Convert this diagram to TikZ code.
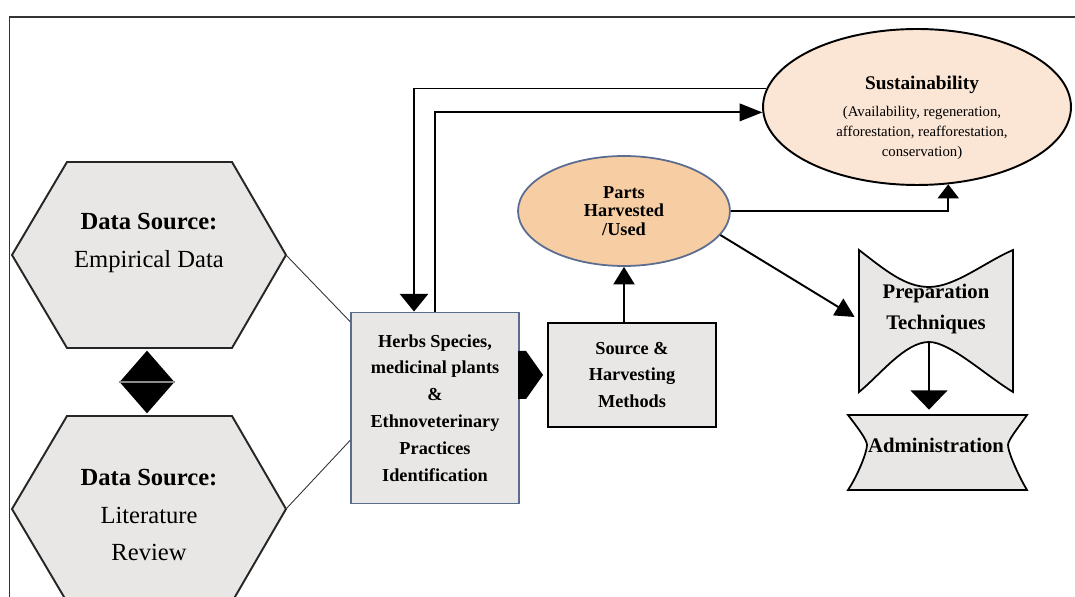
\documentclass[tikz,border=0pt]{standalone}
\usepackage{fontspec}
\setmainfont{Liberation Serif}
\usetikzlibrary{shapes.geometric,calc,arrows.meta,positioning}

\definecolor{boxgray}{HTML}{E9E7E5}
\definecolor{bluegray}{HTML}{5A6C90}
\definecolor{partsorange}{HTML}{F7CDA4}
\definecolor{sustpeach}{HTML}{FBE5D5}

\begin{document}
\begin{tikzpicture}[x=0.02cm, y=-0.02cm, >=Latex,
  hexa/.style={draw=black!85, line width=1.1pt, fill=boxgray},
  hextext/.style={align=center, font=\fontsize{14}{21.6}\selectfont},
  box/.style={draw, fill=boxgray, align=center, line width=1.1pt, font=\bfseries\fontsize{10.4}{15.3}\selectfont},
  bowshape/.style={draw, line width=1pt, fill=boxgray},
  thinline/.style={line width=0.5pt, black!80},
  arr/.style={line width=1.1pt, -{Triangle[width=10pt,length=11pt]}}]
\useasboundingbox (0,0) rectangle (1075,597);
% frame
\draw[line width=0.8pt, black!80] (9.5,597) -- (9.5,17) -- (1075,17);

% data sources
\draw[hexa] (12,255) -- (67,162) -- (232,162) -- (286,255) -- (232,348) -- (67,348) -- cycle;
\draw[hexa] (12,509) -- (67,416) -- (232,416) -- (286,509) -- (232,602) -- (67,602) -- cycle;
\coordinate (emp-e) at (286,255);
\coordinate (lit-e) at (286,509);
\node[hextext] (emp) at (149,243) {\textbf{Data Source:}\\Empirical Data};
\node[hextext] (lit) at (149,515) {\textbf{Data Source:}\\Literature\\Review};
\node[diamond, fill=black, inner sep=0pt, minimum width=1.1cm, minimum height=1.26cm] (link) at (147,382) {};
\draw[black!45, line width=0.6pt] (link.west) -- (link.east);

% main boxes
\node[box, draw=bluegray, minimum width=3.36cm, minimum height=3.82cm] (herbs) at (435,408) {Herbs Species,\\medicinal plants\\\&\\Ethnoveterinary\\Practices\\Identification};
\node[box, minimum width=3.36cm, minimum height=2.08cm] (src) at (632,375) {Source \&\\Harvesting\\Methods};
\node[ellipse, draw=bluegray, fill=partsorange, line width=1pt, inner sep=0pt, minimum width=4.24cm, minimum height=2.2cm, align=center, font=\bfseries\fontsize{10.4}{10.6}\selectfont] (parts) at (624,211) {Parts\\Harvested\\/Used};
\node[ellipse, draw, fill=sustpeach, line width=1.1pt, inner sep=0pt, minimum width=6.16cm, minimum height=3.12cm] (sust) at (917,107) {};
\node[font=\bfseries\fontsize{11}{13}\selectfont] (sust-t) at (922,85) {Sustainability};
\node[align=center, font=\fontsize{8.4}{11.4}\selectfont] (sust-s) at (922,133) {(Availability, regeneration,\\afforestation, reafforestation,\\conservation)};

% preparation and administration
\draw[bowshape] (859,250) .. controls (885,270) and (905,287) .. (929,287)
  .. controls (955,287) and (985,262) .. (1013,250) -- (1013,392)
  .. controls (985,375) and (950,342) .. (929,342)
  .. controls (905,342) and (880,375) .. (859,392) -- cycle;
\node[minimum width=3.08cm, minimum height=2.84cm] (prep) at (936,321) {};
\node[align=center, font=\bfseries\fontsize{11.8}{17.6}\selectfont] (prep-t) at (936,309) {Preparation\\Techniques};
\coordinate (prep-b) at (929,342);
\draw[bowshape] (848,415) -- (1027,415) .. controls (1018,428) and (1008,440) .. (1008,445)
  .. controls (1008,452) and (1018,475) .. (1027,490) -- (848,490)
  .. controls (858,475) and (867,452) .. (867,445)
  .. controls (867,440) and (858,428) .. (848,415) -- cycle;
\node[minimum width=3.58cm, minimum height=1.5cm] (admin) at (937.5,452.5) {};
\node[font=\bfseries\fontsize{11.8}{14}\selectfont] (admin-t) at (936,445) {Administration};

% connectors
\draw[thinline] (emp-e) -- ($(herbs.north west)+(0,10)$);
\draw[thinline] (lit-e) -- ($(herbs.south west)+(0,-64)$);
\draw[arr, -{Triangle[width=16pt,length=10pt]}] (sust.173) -| ($(herbs.north)+(-21,0)$);
\draw[arr, -{Triangle[width=10pt,length=13pt]}] (herbs.north) |- (sust.182);
\fill ($(src.west)+(-29,-24)$) -- ++(8,0) -- ($(src.west)+(-4,0)$) -- ($(src.west)+(-21,24)$) -- ++(-8,0) -- cycle;
\draw[arr, -{Triangle[width=12pt,length=10pt]}] (parts.south |- src.north) -- (parts.south);
\draw[arr, -{Triangle[width=12pt,length=8pt]}] (parts.east) -| (sust.-68);
\draw[arr, -{Triangle[width=11pt,length=11pt]}] (parts.-14) -- ($(prep.west)+(-4,-4)$);
\draw[arr, -{Triangle[width=21pt,length=11pt]}, shorten >=0.1cm] (prep-b) -- (prep-b |- admin.north);
\end{tikzpicture}
\end{document}
